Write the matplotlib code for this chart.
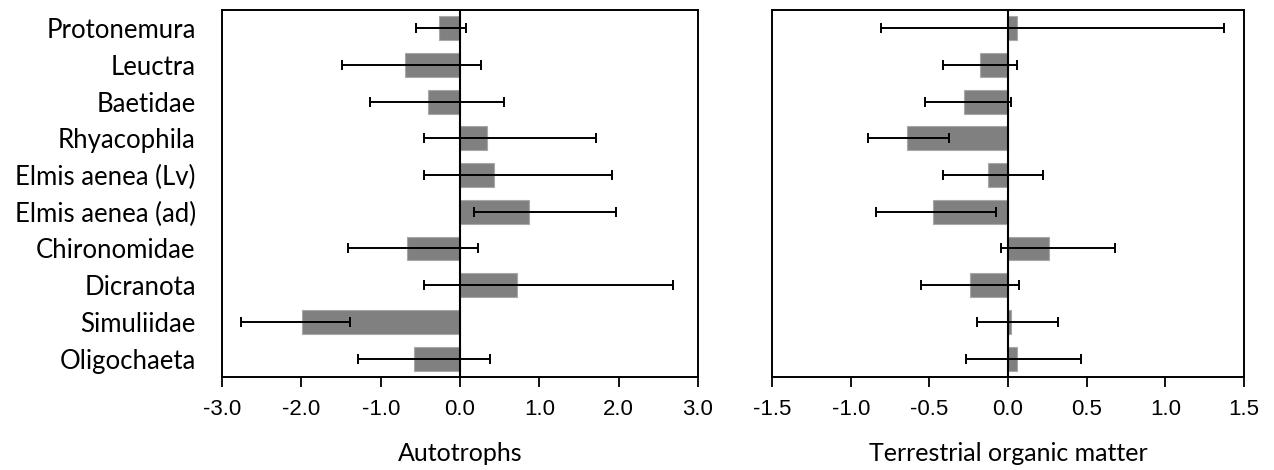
import numpy as np
import matplotlib
matplotlib.use("Agg")
from matplotlib import pyplot as plt

taxa = ["Protonemura", "Leuctra", "Baetidae", "Rhyacophila", "Elmis aenea (Lv)",
        "Elmis aenea (ad)", "Chironomidae", "Dicranota", "Simuliidae", "Oligochaeta"]

# autotrophs: mean and lower / upper interval ends
auto_mean = [-0.27, -0.69, -0.40, 0.34, 0.43, 0.87, -0.67, 0.72, -1.99, -0.58]
auto_low = [-0.56, -1.49, -1.13, -0.46, -0.46, 0.18, -1.41, -0.46, -2.76, -1.29]
auto_high = [0.07, 0.27, 0.55, 1.71, 1.91, 1.97, 0.23, 2.69, -1.39, 0.38]

# terrestrial organic matter
terr_mean = [0.055, -0.18, -0.28, -0.64, -0.125, -0.48, 0.26, -0.245, 0.02, 0.055]
terr_low = [-0.81, -0.415, -0.53, -0.89, -0.415, -0.84, -0.042, -0.555, -0.20, -0.27]
terr_high = [1.375, 0.057, 0.02, -0.377, 0.225, -0.076, 0.68, 0.072, 0.316, 0.464]

auto_ticks = [-3.0, -2.0, -1.0, 0.0, 1.0, 2.0, 3.0]
terr_ticks = [-1.5, -1.0, -0.5, 0.0, 0.5, 1.0, 1.5]

plt.rcParams['font.family'] = ['Lato', 'DejaVu Sans']


def panel(ax, mean, low, high, ticks, label, show_names):
    mean = np.array(mean)
    y = np.arange(len(mean))
    xerr = [mean - np.array(low), np.array(high) - mean]
    ax.barh(y, mean, height=0.65, color="#808080", edgecolor="#a8a8a8", linewidth=0.8, zorder=2)
    ax.errorbar(mean, y, xerr=xerr, fmt="none", ecolor="black", elinewidth=1.4,
                capsize=3.5, capthick=1.4, zorder=4)
    ax.axvline(0, color="black", lw=1.5, zorder=3)
    ax.set_xlim(ticks[0], ticks[-1])
    ax.set_ylim(len(mean) - 0.5, -0.5)
    ax.set_xticks(ticks)
    ax.set_xticklabels(["%.1f" % t for t in ticks])
    for lbl in ax.get_xticklabels():
        lbl.set_fontfamily(["Liberation Sans"])
        lbl.set_fontsize(16)
    ax.tick_params(axis="x", direction="out", length=7, width=1.3, pad=9)
    ax.tick_params(axis="y", length=0, pad=19)
    if show_names:
        ax.set_yticks(y)
        ax.set_yticklabels(taxa, fontsize=18.5)
    else:
        ax.set_yticks([])
    ax.set_xlabel(label, fontsize=18, labelpad=16)
    for s in ax.spines.values():
        s.set_linewidth(1.4)


fig = plt.figure(figsize=(12.74, 4.70), dpi=100)
ax1 = fig.add_axes([0.1743, 0.198, 0.3736, 0.781])
ax2 = fig.add_axes([0.606, 0.198, 0.3705, 0.781])
panel(ax1, auto_mean, auto_low, auto_high, auto_ticks, "Autotrophs", True)
panel(ax2, terr_mean, terr_low, terr_high, terr_ticks, "Terrestrial organic matter", False)

fig.savefig("out.png", dpi=100)
